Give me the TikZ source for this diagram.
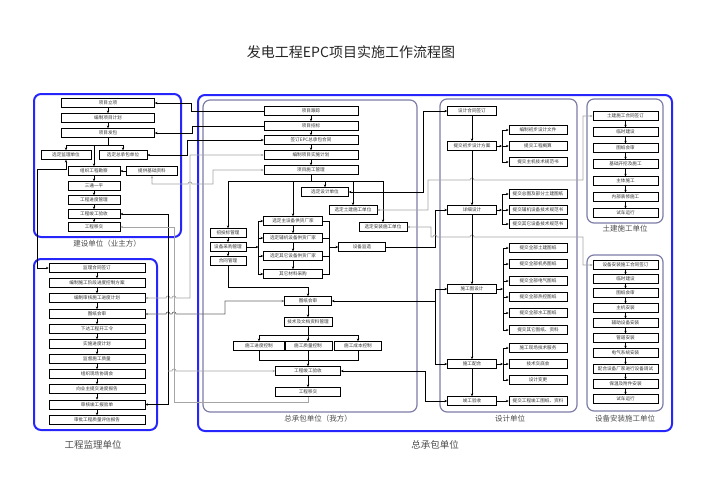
\documentclass[tikz,border=0pt]{standalone}
\usepackage{fontspec}
\setmainfont{Noto Sans CJK SC}
\usepackage{xcolor}
\usepackage{tikz}
\usetikzlibrary{arrows.meta}

\definecolor{unitblue}{RGB}{38,38,250}
\definecolor{unitgray}{RGB}{125,125,168}
\definecolor{wiregray}{RGB}{165,165,165}
\definecolor{wiredark}{RGB}{105,105,105}

\tikzset{
	box/.style={draw, line width=0.8pt, minimum height=9, inner sep=0pt, font=\fontsize{4.6}{5}\selectfont, text=black!80},
	wire/.style={line width=0.7pt},
	gwire/.style={wire, draw=wiregray},
	dwire/.style={wire, draw=wiredark},
	unit/.style={draw=unitblue, line width=2pt, rounded corners=7},
	group/.style={draw=unitgray, line width=1.2pt, rounded corners=7},
	caption/.style={font=\fontsize{7.5}{8}\selectfont, text=black!70},
	bigcaption/.style={font=\fontsize{9.5}{10}\selectfont, text=black!70}
}

\begin{document}
\begin{tikzpicture}[x=1pt, y=-1pt, >={Stealth[length=2.6pt, width=2.4pt]}]
	\useasboundingbox (0, 0) rectangle (702, 496);
	% Units and groups:
	\draw[unit] (34, 94) rectangle (181, 237);
	\draw[unit] (34, 259) rectangle (157, 430);
	\draw[unit] (198, 95) rectangle (672, 431);
	\draw[group] (203, 100) rectangle (417, 412);
	\draw[group] (440, 99) rectangle (577, 412);
	\draw[group] (587, 99) rectangle (663, 223);
	\draw[group] (587, 255) rectangle (663, 411);
	\node[font=\fontsize{14}{16}\selectfont, text=black!85] (title) at (351, 52){发电工程EPC项目实施工作流程图};
	\node[caption] (ownlabel) at (107, 244){建设单位（业主方）};
	\node[bigcaption] (suplabel) at (93, 445){工程监理单位};
	\node[bigcaption] (mainlabel) at (435, 445){总承包单位};
	\node[caption] (epclabel) at (318, 419){总承包单位（我方）};
	\node[caption] (deslabel) at (510, 419){设计单位};
	\node[caption] (civlabel) at (625, 229){土建施工单位};
	\node[caption] (inslabel) at (625, 419){设备安装施工单位};

	% Owner boxes:
	\node[box, minimum width=93] (own1) at (108, 103){项目立项};
	\node[box, minimum width=93] (own2) at (108, 118){编制项目计划};
	\node[box, minimum width=93] (own3) at (108, 133){项目发包};
	\node[box, minimum width=50] (own4) at (66, 155){选定监理单位};
	\node[box, minimum width=48] (own5) at (123, 155){选定总承包单位};
	\node[box, minimum width=52] (own6) at (94, 171){组织工程勘察};
	\node[box, minimum width=51] (own7) at (152, 171){提供基础资料};
	\node[box, minimum width=52] (own8) at (94, 186){三通一平};
	\node[box, minimum width=52] (own9) at (94, 200){工程进度管理};
	\node[box, minimum width=52] (own10) at (94, 214){工程竣工验收};
	\node[box, minimum width=52] (own11) at (94, 227){工程移交};

	% Supervision boxes:
	\node[box, minimum width=96] (sup1) at (97, 268){监理合同签订};
	\node[box, minimum width=96] (sup2) at (97, 283){编制施工阶段进度控制方案};
	\node[box, minimum width=96] (sup3) at (97, 298){编制审核施工进度计划};
	\node[box, minimum width=96] (sup4) at (97, 314){图纸会审};
	\node[box, minimum width=96] (sup5) at (97, 329){下达工程开工令};
	\node[box, minimum width=96] (sup6) at (97, 344){实施进度计划};
	\node[box, minimum width=96] (sup7) at (97, 359){监督施工质量};
	\node[box, minimum width=96] (sup8) at (97, 374){组织现场协调会};
	\node[box, minimum width=96] (sup9) at (97, 389){向业主提交进度报告};
	\node[box, minimum width=96] (sup10) at (97, 404.5){审核竣工报验单};
	\node[box, minimum width=96] (sup11) at (97, 420){审批工程质量评估报告};

	% EPC boxes:
	\node[box, minimum width=94] (epc1) at (311, 111){项目跟踪};
	\node[box, minimum width=94] (epc2) at (311, 126){项目招标};
	\node[box, minimum width=94] (epc3) at (311, 140){签订EPC总承包合同};
	\node[box, minimum width=94] (epc4) at (311, 155){编制项目实施计划};
	\node[box, minimum width=94] (epc5) at (311, 170){项目施工管理};
	\node[box, minimum width=47] (dsel) at (325, 192){选定设计单位};
	\node[box, minimum width=48] (csel) at (353, 210){选定土建施工单位};
	\node[box, minimum width=48] (isel) at (383, 227){选定安装施工单位};
	\node[box, minimum width=36] (bid) at (228, 233){招投标管理};
	\node[box, minimum width=36] (proc) at (228, 247){设备采购管理};
	\node[box, minimum width=36] (cont) at (228, 261){合同管理};
	\node[box, minimum width=59] (eq1) at (293, 221){选定主设备供货厂家};
	\node[box, minimum width=59] (eq2) at (293, 238){选定辅机设备供货厂家};
	\node[box, minimum width=59] (eq3) at (293, 256){选定其它设备供货厂家};
	\node[box, minimum width=59] (eq4) at (293, 274){其它材料采购};
	\node[box, minimum width=47] (mon) at (362, 247){设备监造};
	\node[box, minimum width=47] (drw) at (308, 301){图纸会审};
	\node[box, minimum width=48] (doc) at (308, 322){技术及文档资料管理};
	\node[box, minimum width=52] (ctl1) at (259, 346){施工进度控制};
	\node[box, minimum width=48] (ctl2) at (308, 346){施工质量控制};
	\node[box, minimum width=47] (ctl3) at (358, 346){施工成本控制};
	\node[box, minimum width=65] (acc) at (308, 371){工程竣工验收};
	\node[box, minimum width=65] (hand) at (308, 392){工程移交};

	% Design boxes:
	\node[box, minimum width=49] (d1) at (472, 111){设计合同签订};
	\node[box, minimum width=49] (d2) at (472, 146){提交初步设计方案};
	\node[box, minimum width=49] (d3) at (472, 210){详细设计};
	\node[box, minimum width=49] (d4) at (472, 289){施工图设计};
	\node[box, minimum width=49] (d5) at (472, 364){施工配合};
	\node[box, minimum width=49] (d6) at (472, 401){竣工验收};
	\node[box, minimum width=58] (r1) at (538, 130){编制初步设计文件};
	\node[box, minimum width=58] (r2) at (538, 146){提交工程概算};
	\node[box, minimum width=58] (r3) at (538, 162){提交主机技术规范书};
	\node[box, minimum width=58] (r4) at (538, 194){提交总图及部分土建图纸};
	\node[box, minimum width=58] (r5) at (538, 210){提交辅机设备技术规范书};
	\node[box, minimum width=58] (r6) at (538, 224){提交其它设备技术规范书};
	\node[box, minimum width=58] (r7) at (538, 248){提交全部土建图纸};
	\node[box, minimum width=58] (r8) at (538, 264){提交全部机务图纸};
	\node[box, minimum width=58] (r9) at (538, 281){提交全部电气图纸};
	\node[box, minimum width=58] (r10) at (538, 297){提交全部热控图纸};
	\node[box, minimum width=58] (r11) at (538, 313){提交全部水工图纸};
	\node[box, minimum width=58] (r12) at (538, 330){提交其它图纸、资料};
	\node[box, minimum width=58] (r13) at (538, 348){施工现场技术服务};
	\node[box, minimum width=58] (r14) at (538, 364){技术交底会};
	\node[box, minimum width=58] (r15) at (538, 380){设计变更};
	\node[box, minimum width=58] (r16) at (538, 401){提交工程竣工图纸、资料};

	% Civil works boxes:
	\node[box, minimum width=65, minimum height=8.5] (civ1) at (625.5, 116){土建施工合同签订};
	\node[box, minimum width=65, minimum height=8.5] (civ2) at (625.5, 132){临时建设};
	\node[box, minimum width=65, minimum height=8.5] (civ3) at (625.5, 148){图纸会审};
	\node[box, minimum width=65, minimum height=8.5] (civ4) at (625.5, 164){基础开挖及施工};
	\node[box, minimum width=65, minimum height=8.5] (civ5) at (625.5, 181){主体施工};
	\node[box, minimum width=65, minimum height=8.5] (civ6) at (625.5, 197){内部装修施工};
	\node[box, minimum width=65, minimum height=8.5] (civ7) at (625.5, 213){试车运行};

	% Installation boxes:
	\node[box, minimum width=65, minimum height=8.5] (ins1) at (625.5, 265){设备安装施工合同签订};
	\node[box, minimum width=65, minimum height=8.5] (ins2) at (625.5, 279){临时建设};
	\node[box, minimum width=65, minimum height=8.5] (ins3) at (625.5, 293){图纸会审};
	\node[box, minimum width=65, minimum height=8.5] (ins4) at (625.5, 308){主机安装};
	\node[box, minimum width=65, minimum height=8.5] (ins5) at (625.5, 323){辅助设备安装};
	\node[box, minimum width=65, minimum height=8.5] (ins6) at (625.5, 338){管道安装};
	\node[box, minimum width=65, minimum height=8.5] (ins7) at (625.5, 353){电气系统安装};
	\node[box, minimum width=65, minimum height=8.5] (ins8) at (625.5, 369){配合设备厂家进行设备调试};
	\node[box, minimum width=65, minimum height=8.5] (ins9) at (625.5, 384){保温及附件安装};
	\node[box, minimum width=65, minimum height=8.5] (ins10) at (625.5, 399){试车运行};

	% Owner wires:
	\draw[wire, ->] (own1) -- (own2);
	\draw[wire, ->] (own2) -- (own3);
	\draw[wire, ->] (own3.south) -- ++(0, 7) -| (own4);
	\draw[wire, ->] (own3.south) -- ++(0, 7) -| (own5);
	\draw[wire, ->] (own3.south) -- ++(0, 7) -| (own6);
	\draw[wire, ->] (own7) -- (own6);
	\draw[wire, ->] (own6) -- (own8);
	\draw[wire, ->] (own8) -- (own9);
	\draw[wire, ->] (own9) -- (own10);
	\draw[wire, ->] (own10) -- (own11);

	% Supervision wires:
	\draw[wire, ->] (sup1) -- (sup2);
	\draw[wire, ->] (sup2) -- (sup3);
	\draw[wire, ->] (sup3) -- (sup4);
	\draw[wire, ->] (sup4) -- (sup5);
	\draw[wire, ->] (sup5) -- (sup6);
	\draw[wire, ->] (sup6) -- (sup7);
	\draw[wire, ->] (sup7) -- (sup8);
	\draw[wire, ->] (sup8) -- (sup9);
	\draw[wire, ->] (sup9) -- (sup10);
	\draw[wire, ->] (sup10) -- (sup11);

	% Wires between the units:
	\draw[wire, ->] (epc1.west) -- ++(-72, 0) |- (own1.east);
	\draw[wire, ->] (epc2.west) -- ++(-71, 0) |- (own3.east);
	\draw[wire, <->] (own5.east) -- ++(40, 0) |- (epc3.west);
	\draw[wire, <->] (own4.south) -- ++(0, 9) -| (37, 268) -- (sup1.west);
	\draw[gwire, <->] (epc4.west) -- (190, 155) -- (190, 298) -- (176, 298) arc[start angle=0, end angle=180, radius=2pt] -- (170, 298) arc[start angle=0, end angle=180, radius=2pt] -- (sup3.east);
	\draw[gwire, <->] (epc5.west) -- (213, 170) -- (213, 184) -- (192, 184) arc[start angle=0, end angle=180, radius=2pt] -| (own7.south);
	\draw[dwire, <->] (drw.west) -- (225, 301) -- (225, 314) -- (176, 314) arc[start angle=0, end angle=180, radius=2pt] -- (170, 314) arc[start angle=0, end angle=180, radius=2pt] -- (sup4.east);
	\draw[wire, <->] (own10.east) -- (168, 214) -- (168, 404.5) -- (sup10.east);
	\coordinate (tap) at (168, 371);
	\draw[gwire, ->] (tap) -- (172, 371) arc[start angle=180, end angle=0, radius=2pt] -- (acc.west);
	\draw[gwire, ->] (hand.south) -- (308, 402) -- (174, 402) -- (174, 227) -- (own11.east);

	% EPC wires:
	\draw[wire, ->] (epc1) -- (epc2);
	\draw[wire, ->] (epc2) -- (epc3);
	\draw[wire, ->] (epc3) -- (epc4);
	\draw[wire, ->] (epc4) -- (epc5);
	\draw[wire, ->] (epc5.south) -- ++(0, 6) -| (bid);
	\draw[wire, ->] (epc5.south) -- ++(0, 6) -| (eq1);
	\draw[wire, ->] (epc5.south) -- ++(0, 6) -| (dsel);
	\draw[wire, ->] (epc5.south) -- ++(0, 6) -| (csel);
	\draw[wire, ->] (epc5.south) -- ++(0, 6) -| (isel);
	\draw[wire, ->] (bid) -- (proc);
	\draw[wire, ->] (proc) -- (cont);
	\draw[wire, ->] (proc.east) -- ++(12, 0) coordinate (lbar);
	\draw[wire] (eq1.west -| lbar) -- (eq4.west -| lbar);
	\draw[wire, ->] (eq1.west -| lbar) -- (eq1.west);
	\draw[wire, ->] (eq2.west -| lbar) -- (eq2.west);
	\draw[wire, ->] (eq3.west -| lbar) -- (eq3.west);
	\draw[wire, ->] (eq4.west -| lbar) -- (eq4.west);
	\draw[wire, ->] (eq1) -- (eq2);
	\draw[wire, ->] (eq2) -- (eq3);
	\draw[wire, ->] (eq3) -- (eq4);
	\draw[wire] (eq1.east) -- ++(6, 0) coordinate (rbar) -- (rbar |- eq4.east) -- (eq4.east);
	\draw[wire] (eq2.east) -- (eq2.east -| rbar);
	\draw[wire] (eq3.east) -- (eq3.east -| rbar);
	\draw[wire, ->] (rbar |- mon.west) -- (mon.west);
	\draw[wire, ->] (cont.south) -- ++(0, 21) -| (drw);
	\draw[wire, ->] (drw) -- (doc);
	\draw[wire, ->] (doc.south) -- ++(0, 8) -| (ctl1);
	\draw[wire, ->] (doc.south) -- ++(0, 8) -| (ctl2);
	\draw[wire, ->] (doc.south) -- ++(0, 8) -| (ctl3);
	\draw[wire] (ctl1.south) -- ++(0, 9.5) -| (ctl3.south);
	\draw[wire, ->] (ctl2) -- (acc);
	\draw[wire, ->] (acc) -- (hand);

	% EPC to design and contractors:
	\draw[wire, <->] (dsel.east) -- (423, 192) |- (d1.west);
	\draw[wire, ->] (mon.east) -- (435, 247) |- (d3.west);
	\draw[wire, <->] (drw.east) -- (435, 301) |- (d4.west);
	\coordinate (fork) at (435, 301);
	\draw[wire, ->] (fork) |- (d5.west);
	\draw[wire, <->] (acc.east) -- (425, 371) |- (d6.west);
	\draw[gwire, <->] (csel.east) -- (428, 210) -- (428, 180) -- (470, 180) arc[start angle=180, end angle=0, radius=2pt] -- (583, 180) |- (civ1.west);
	\draw[gwire, <->] (isel.east) -- (431, 227) -- (431, 237) -- (433, 237) arc[start angle=180, end angle=0, radius=2pt] -- (470, 237) arc[start angle=180, end angle=0, radius=2pt] -- (583, 237) |- (ins1.west);

	% Design wires:
	\draw[wire, ->] (d1) -- (d2);
	\draw[wire, ->] (d2) -- (d3);
	\draw[wire, ->] (d3) -- (d4);
	\draw[wire, ->] (d4) -- (d5);
	\draw[wire, ->] (d5) -- (d6);
	\draw[wire, ->] (d2.east) -- ++(5, 0) coordinate (b1);
	\draw[wire] (b1 |- r1.west) -- (b1 |- r3.west);
	\draw[wire, ->] (b1 |- r1.west) -- (r1.west);
	\draw[wire, ->] (b1 |- r2.west) -- (r2.west);
	\draw[wire, ->] (b1 |- r3.west) -- (r3.west);
	\draw[wire, ->] (d3.east) -- ++(5, 0) coordinate (b2);
	\draw[wire] (b2 |- r4.west) -- (b2 |- r6.west);
	\draw[wire, ->] (b2 |- r4.west) -- (r4.west);
	\draw[wire, ->] (b2 |- r5.west) -- (r5.west);
	\draw[wire, ->] (b2 |- r6.west) -- (r6.west);
	\draw[wire, ->] (d4.east) -- ++(6, 0) coordinate (b3);
	\draw[wire] (b3 |- r7.west) -- (b3 |- r12.west);
	\draw[wire, ->] (b3 |- r7.west) -- (r7.west);
	\draw[wire, ->] (b3 |- r8.west) -- (r8.west);
	\draw[wire, ->] (b3 |- r9.west) -- (r9.west);
	\draw[wire, ->] (b3 |- r10.west) -- (r10.west);
	\draw[wire, ->] (b3 |- r11.west) -- (r11.west);
	\draw[wire, ->] (b3 |- r12.west) -- (r12.west);
	\draw[wire, ->] (d5.east) -- ++(6, 0) coordinate (b4);
	\draw[wire] (b4 |- r13.west) -- (b4 |- r15.west);
	\draw[wire, ->] (b4 |- r13.west) -- (r13.west);
	\draw[wire, ->] (b4 |- r14.west) -- (r14.west);
	\draw[wire, ->] (b4 |- r15.west) -- (r15.west);
	\draw[wire, ->] (d6) -- (r16);

	% Contractor wires:
	\draw[wire, ->] (civ1) -- (civ2);
	\draw[wire, ->] (civ2) -- (civ3);
	\draw[wire, ->] (civ3) -- (civ4);
	\draw[wire, ->] (civ4) -- (civ5);
	\draw[wire, ->] (civ5) -- (civ6);
	\draw[wire, ->] (civ6) -- (civ7);
	\draw[wire, ->] (ins1) -- (ins2);
	\draw[wire, ->] (ins2) -- (ins3);
	\draw[wire, ->] (ins3) -- (ins4);
	\draw[wire, ->] (ins4) -- (ins5);
	\draw[wire, ->] (ins5) -- (ins6);
	\draw[wire, ->] (ins6) -- (ins7);
	\draw[wire, ->] (ins7) -- (ins8);
	\draw[wire, ->] (ins8) -- (ins9);
	\draw[wire, ->] (ins9) -- (ins10);
\end{tikzpicture}
\end{document}
